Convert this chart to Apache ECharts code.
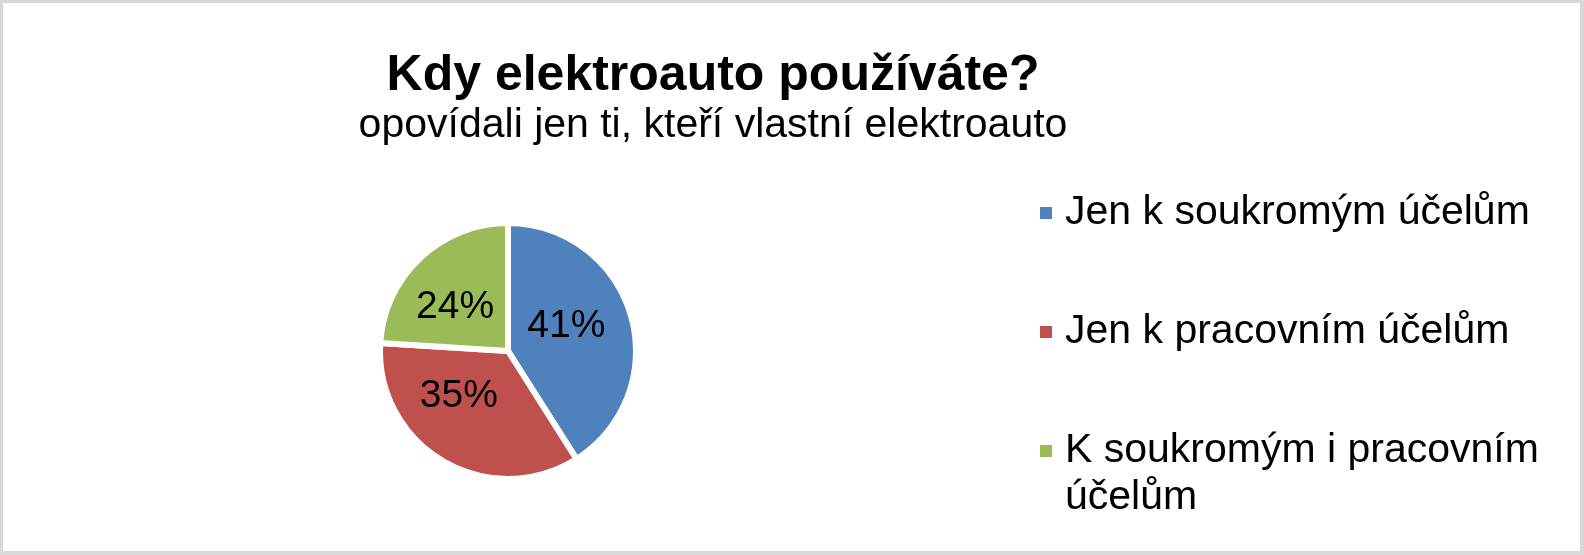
<!DOCTYPE html>
<html>
<head>
<meta charset="utf-8">
<script src="https://cdn.jsdelivr.net/npm/echarts@6/dist/echarts.min.js"></script>
<style>
html,body{margin:0;padding:0;background:#fff;}
#wrap{position:relative;width:1584px;height:555px;}
#chart{width:1584px;height:555px;}
#frame{position:absolute;left:0;top:0;width:1584px;height:555px;box-sizing:border-box;border-style:solid;border-color:#d9d9d9;border-width:3px 4px 4px 3px;pointer-events:none;}
</style>
</head>
<body>
<div id="wrap"><div id="chart"></div><div id="frame"></div></div>
<script>
const titleText = 'Kdy elektroauto používáte?';
const subtitleText = 'opovídali jen ti, kteří vlastní elektroauto';
const categories = ['Jen k soukromým účelům', 'Jen k pracovním účelům', 'K soukromým i pracovním účelům'];
const values = [41, 35, 24];
const colors = ['#4F81BD', '#C0504D', '#9BBB59'];

const FONT = '"Liberation Sans", Arial, sans-serif';
const chart = echarts.init(document.getElementById('chart'), null, {renderer: 'canvas'});

// legend layout (style only)
const LEG_LH = 47;
const legendCenters = [213, 332, 451];
const legendLines = [null, null, ['K soukromým i pracovním', 'účelům']];
// small label nudges to mimic the original's label placement (style only)
const labelNudge = [[-6, -6], [-15, -12], [-7, 5]];

const legends = categories.map((name, i) => {
  const nLines = legendLines[i] ? legendLines[i].length + 1 : 1;
  return {
    data: [name],
    orient: 'vertical',
    left: 1038,
    top: legendCenters[i] - nLines * LEG_LH / 2,
    padding: 0,
    icon: 'rect',
    itemWidth: 14,
    itemHeight: 14,
    selectedMode: false,
    formatter: function (n) {
      const lines = legendLines[i];
      return lines ? '\u00a0\n' + lines.join('\n') : n;
    },
    textStyle: {
      fontFamily: FONT,
      fontSize: 41,
      lineHeight: LEG_LH,
      color: '#000',
      padding: [0, 0, 0, 7]
    }
  };
});

chart.setOption({
  backgroundColor: '#ffffff',
  animation: false,
  color: colors,
  title: {
    text: titleText,
    subtext: subtitleText,
    left: 713,
    top: 51,
    padding: 0,
    textAlign: 'center',
    itemGap: 4,
    textStyle: {fontFamily: FONT, fontSize: 50, lineHeight: 50, fontWeight: 'bold', color: '#000'},
    subtextStyle: {fontFamily: FONT, fontSize: 41, lineHeight: 41, color: '#000'}
  },
  legend: legends,
  series: [{
    type: 'pie',
    center: [508, 351],
    radius: [0, 128],
    startAngle: 90,
    clockwise: true,
    avoidLabelOverlap: false,
    itemStyle: {borderColor: '#ffffff', borderWidth: 6},
    label: {
      show: true,
      position: 'inside',
      formatter: function (p) { return p.value + '%'; },
      fontFamily: FONT,
      fontSize: 39,
      color: '#000'
    },
    labelLayout: function (p) {
      const n = labelNudge[p.dataIndex] || [0, 0];
      return {dx: n[0], dy: n[1]};
    },
    labelLine: {show: false},
    emphasis: {disabled: true},
    data: categories.map((c, i) => ({name: c, value: values[i]}))
  }]
});
</script>
</body>
</html>
